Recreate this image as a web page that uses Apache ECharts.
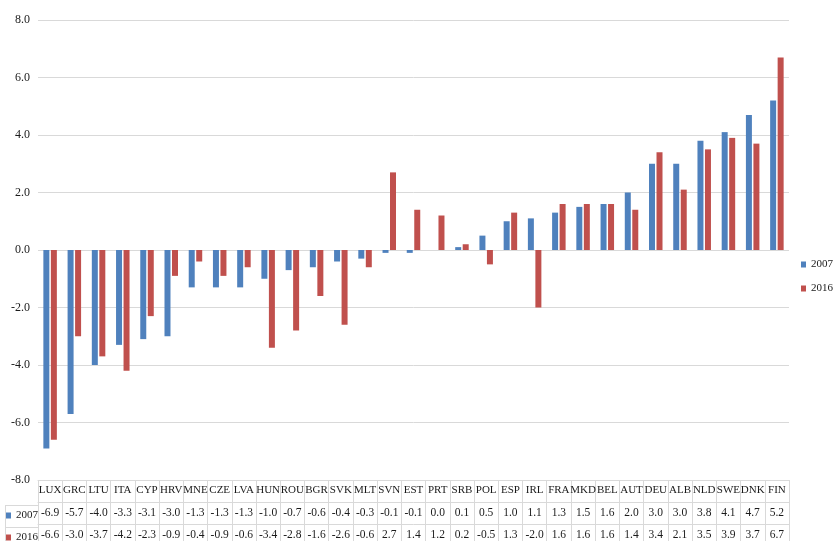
<!DOCTYPE html>
<html>
<head>
<meta charset="utf-8">
<script src="https://cdn.jsdelivr.net/npm/echarts@6/dist/echarts.min.js"></script>
<style>
  html, body { margin: 0; padding: 0; background: #fff; }
  #chart { width: 833px; height: 541px; }
</style>
</head>
<body>
<div id="chart"></div>
<script>
// categories (countries)
var countries = ["LUX", "GRC", "LTU", "ITA", "CYP", "HRV", "MNE", "CZE", "LVA", "HUN",
  "ROU", "BGR", "SVK", "MLT", "SVN", "EST", "PRT", "SRB", "POL", "ESP",
  "IRL", "FRA", "MKD", "BEL", "AUT", "DEU", "ALB", "NLD", "SWE", "DNK", "FIN"];
var seriesNames = ["2007", "2016"];
var values2007 = [-6.9, -5.7, -4.0, -3.3, -3.1, -3.0, -1.3, -1.3, -1.3, -1.0,
  -0.7, -0.6, -0.4, -0.3, -0.1, -0.1, 0.0, 0.1, 0.5, 1.0,
  1.1, 1.3, 1.5, 1.6, 2.0, 3.0, 3.0, 3.8, 4.1, 4.7, 5.2];
var values2016 = [-6.6, -3.0, -3.7, -4.2, -2.3, -0.9, -0.4, -0.9, -0.6, -3.4,
  -2.8, -1.6, -2.6, -0.6, 2.7, 1.4, 1.2, 0.2, -0.5, 1.3,
  -2.0, 1.6, 1.6, 1.6, 1.4, 3.4, 2.1, 3.5, 3.9, 3.7, 6.7];
var yTicks = { min: -8, max: 8, step: 2 };

var font = "Liberation Serif";
var textColor = "#1a1a1a";
var border = "#d9d9d9";
var colors = ["#4f81bd", "#c0504d"];

var chart = echarts.init(document.getElementById("chart"));

// one row of the data table under the plot, drawn as an extra category axis
function tableAxis(offset, fmt, size) {
  return {
    type: "category",
    data: countries,
    position: "bottom",
    offset: offset,
    axisLine: { show: true, onZero: false, lineStyle: { color: border, width: 1 } },
    axisTick: { show: true, interval: 0, length: 22, lineStyle: { color: border } },
    axisLabel: {
      show: true, interval: 0, margin: 5,
      fontFamily: font, fontSize: size, color: textColor,
      formatter: fmt
    },
    splitLine: { show: false }
  };
}

function rowLegend(name, top) {
  return {
    data: [name],
    left: 6, top: top,
    padding: 0,
    itemWidth: 5, itemHeight: 6,
    icon: "rect",
    selectedMode: false,
    textStyle: { fontFamily: font, fontSize: 11, color: textColor }
  };
}

var option = {
  animation: false,
  color: colors,
  textStyle: { fontFamily: font },
  grid: { left: 38, right: 44, top: 20, bottom: 58 },
  legend: [
    {
      data: seriesNames,
      orient: "vertical",
      right: 0, top: 259,
      padding: 0,
      itemGap: 13,
      itemWidth: 5, itemHeight: 6,
      icon: "rect",
      selectedMode: false,
      textStyle: { fontFamily: font, fontSize: 11, color: textColor }
    },
    rowLegend(seriesNames[0], 510),
    rowLegend(seriesNames[1], 532)
  ],
  xAxis: [
    tableAxis(0, function (v) { return v; }, 11),
    tableAxis(22, function (v, i) { return values2007[i].toFixed(1); }, 11.5),
    tableAxis(44, function (v, i) { return values2016[i].toFixed(1); }, 11.5)
  ],
  yAxis: {
    type: "value",
    min: yTicks.min, max: yTicks.max, interval: yTicks.step,
    axisLine: { show: false },
    axisTick: { show: false },
    splitLine: { lineStyle: { color: border, width: 1 } },
    axisLabel: {
      margin: 8,
      fontFamily: font, fontSize: 12, color: textColor,
      formatter: function (v) { return v.toFixed(1); }
    }
  },
  series: [
    {
      name: seriesNames[0], type: "bar", xAxisIndex: 0,
      data: values2007, barWidth: 6, barGap: "25%",
      itemStyle: { color: colors[0] }
    },
    {
      name: seriesNames[1], type: "bar", xAxisIndex: 0,
      data: values2016, barWidth: 6, barGap: "25%",
      itemStyle: { color: colors[1] }
    }
  ],
  // row-header borders of the data table
  graphic: [
    { type: "line", shape: { x1: 5, y1: 505.5, x2: 38, y2: 505.5 }, style: { stroke: border } },
    { type: "line", shape: { x1: 5, y1: 527.5, x2: 38, y2: 527.5 }, style: { stroke: border } },
    { type: "line", shape: { x1: 5.5, y1: 505, x2: 5.5, y2: 541 }, style: { stroke: border } }
  ]
};

chart.setOption(option);
</script>
</body>
</html>
